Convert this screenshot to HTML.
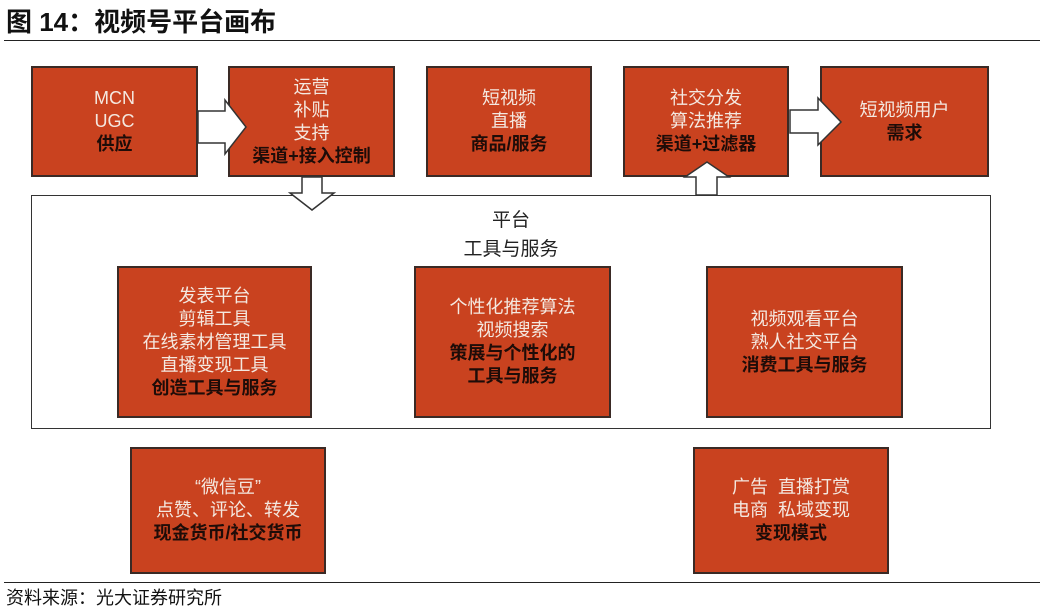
<!DOCTYPE html>
<html><head><meta charset="utf-8"><style>
body{margin:0;width:1045px;height:615px;background:#fff;position:relative;overflow:hidden;font-family:"Liberation Sans","Noto Sans CJK SC",sans-serif}
.b{position:absolute;background:#c9421f;border:2px solid #3a2a25;box-sizing:border-box;display:flex;flex-direction:column;justify-content:center;align-items:center;text-align:center;font-size:18px;line-height:23px;color:#f4e8e0}
.b div.d{color:#1e0c08;font-weight:bold}
.t{position:absolute}
</style></head><body>
<div class="t" style="left:6px;top:2px;font-size:26px;font-weight:bold;color:#111">图 14：视频号平台画布</div>
<div class="t" style="left:4px;top:40px;width:1036px;height:1px;background:#222"></div>
<div class="t" style="left:31px;top:195px;width:960px;height:234px;border:1.5px solid #333;box-sizing:border-box"></div>
<div class="t" style="left:31px;top:206px;width:960px;text-align:center;font-size:19px;line-height:29px;color:#222">平台<br>工具与服务</div>
<div class="b" style="left:31px;top:66px;width:167px;height:111px"><div>MCN</div><div>UGC</div><div class="d">供应</div></div>
<div class="b" style="left:228px;top:66px;width:167px;height:111px"><div>运营</div><div>补贴</div><div>支持</div><div class="d">渠道+接入控制</div></div>
<div class="b" style="left:426px;top:66px;width:166px;height:111px"><div>短视频</div><div>直播</div><div class="d">商品/服务</div></div>
<div class="b" style="left:623px;top:66px;width:166px;height:111px"><div>社交分发</div><div>算法推荐</div><div class="d">渠道+过滤器</div></div>
<div class="b" style="left:820px;top:66px;width:169px;height:111px"><div>短视频用户</div><div class="d">需求</div></div>
<div class="b" style="left:117px;top:266px;width:195px;height:152px"><div>发表平台</div><div>剪辑工具</div><div>在线素材管理工具</div><div>直播变现工具</div><div class="d">创造工具与服务</div></div>
<div class="b" style="left:414px;top:266px;width:197px;height:152px"><div>个性化推荐算法</div><div>视频搜索</div><div class="d">策展与个性化的</div><div class="d">工具与服务</div></div>
<div class="b" style="left:706px;top:266px;width:197px;height:152px"><div>视频观看平台</div><div>熟人社交平台</div><div class="d">消费工具与服务</div></div>
<div class="b" style="left:130px;top:447px;width:196px;height:127px"><div>“微信豆”</div><div>点赞、评论、转发</div><div class="d">现金货币/社交货币</div></div>
<div class="b" style="left:693px;top:447px;width:196px;height:127px"><div>广告&nbsp; 直播打赏</div><div>电商&nbsp; 私域变现</div><div class="d">变现模式</div></div>
<svg class="t" style="left:0;top:0" width="1045" height="615">
<g fill="#fff" stroke="#333" stroke-width="1.5">
<polygon points="198,111 225,111 225,100 246,127 225,154 225,143 198,143"/>
<polygon points="302,177 322,177 322,193 334,193 312,210 290,193 302,193"/>
<polygon points="696,195 717,195 717,177 729,177 707,162 685,177 696,177"/>
<polygon points="790,110 818,110 818,98 841,122 818,145 818,133 790,133"/>
</g></svg>
<div class="t" style="left:4px;top:582px;width:1036px;height:1px;background:#222"></div>
<div class="t" style="left:6px;top:584px;font-size:18px;color:#111">资料来源：光大证券研究所</div>
</body></html>
